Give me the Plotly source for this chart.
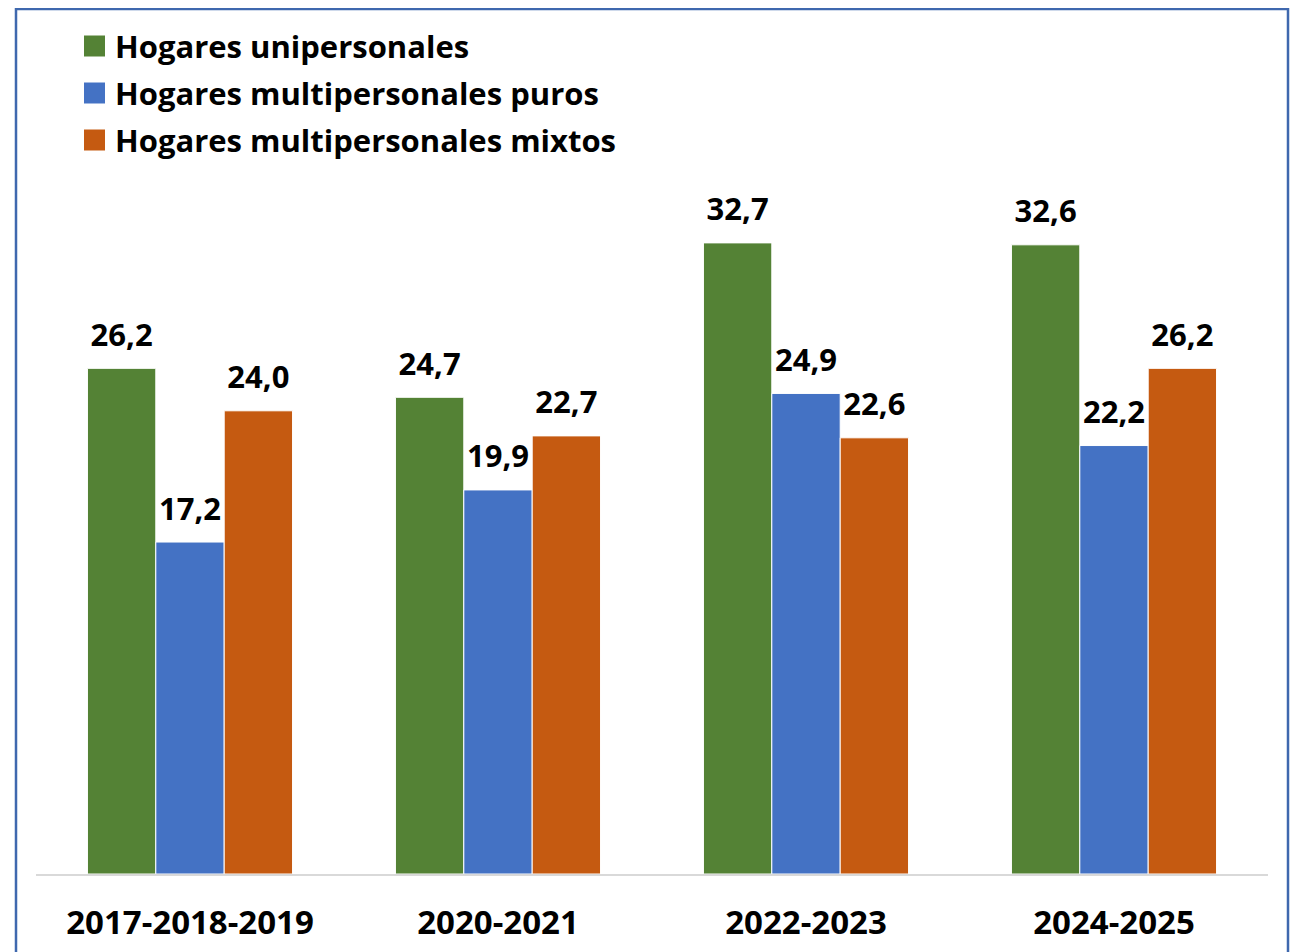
import plotly.graph_objects as go

periods = ["2017-2018-2019", "2020-2021", "2022-2023", "2024-2025"]
series_names = [
    "Hogares unipersonales",
    "Hogares multipersonales puros",
    "Hogares multipersonales mixtos",
]
unipersonales = [26.2, 24.7, 32.7, 32.6]
multi_puros = [17.2, 19.9, 24.9, 22.2]
multi_mixtos = [24.0, 22.7, 22.6, 26.2]
colors = ["#548235", "#4472C4", "#C55A11"]

FONT = "Open Sans"
W, H = 1299, 952
# the page body adds 8px, so figure coords = page coords - 8
OFF = 8
M_L, M_R, M_T, M_B = 36 - OFF, 31 + OFF, 102 - OFF, 78 + OFF
Y_MAX = 40
BARGAP = 0.334

fig = go.Figure()
for i, (name, values, color) in enumerate(
    zip(series_names, [unipersonales, multi_puros, multi_mixtos], colors)
):
    fig.add_trace(
        go.Bar(
            x=periods,
            y=values,
            name=name,
            offsetgroup=str(i),
            marker=dict(color=color, line=dict(color="white", width=1)),
            showlegend=False,
        )
    )
    # value labels, lifted a bit above the bar tops
    fig.add_trace(
        go.Scatter(
            x=periods,
            y=values,
            offsetgroup=str(i),
            mode="markers+text",
            marker=dict(size=22, opacity=0),
            text=[f"{v:.1f}".replace(".", ",") for v in values],
            textposition="top center",
            textfont=dict(family=FONT, size=31, color="black", weight="bold"),
            cliponaxis=False,
            hoverinfo="skip",
            showlegend=False,
        )
    )

plot_h = H - M_T - M_B
plot_w = W - M_L - M_R


def px_x(x):
    # page x -> paper coords
    return (x - OFF - M_L) / plot_w


def px_y(y):
    # page y -> paper coords
    return (H - M_B - (y - OFF)) / plot_h


# custom legend with big square swatches
for i, (name, color) in enumerate(zip(series_names, colors)):
    cy = 46 + i * 47
    fig.add_shape(
        type="rect", xref="paper", yref="paper",
        x0=px_x(84), x1=px_x(105), y0=px_y(cy + 10.5), y1=px_y(cy - 10.5),
        fillcolor=color, line=dict(width=0),
    )
    fig.add_annotation(
        xref="paper", yref="paper", x=px_x(113), y=px_y(cy),
        text=name, showarrow=False, xanchor="left", yanchor="middle",
        font=dict(family=FONT, size=31, color="black", weight="bold"),
    )

# outer frame
fig.add_shape(
    type="rect", xref="paper", yref="paper",
    x0=px_x(16), x1=px_x(1288), y0=px_y(1000), y1=px_y(OFF + 1),
    line=dict(color="#3F68AE", width=2.5), fillcolor="rgba(0,0,0,0)",
)

fig.update_layout(
    width=W,
    height=H,
    barmode="group",
    scattermode="group",
    bargap=BARGAP,
    scattergap=BARGAP,
    bargroupgap=0,
    plot_bgcolor="white",
    paper_bgcolor="white",
    margin=dict(l=M_L, r=M_R, t=M_T, b=M_B),
    font=dict(family=FONT, color="black"),
)
fig.update_xaxes(
    showline=True,
    linecolor="#D9D9D9",
    linewidth=2,
    showgrid=False,
    tickfont=dict(family=FONT, size=33, color="black", weight="bold"),
    ticklabelstandoff=18,
)
fig.update_yaxes(range=[0, Y_MAX], visible=False, showgrid=False)

fig.write_html("out.html")
